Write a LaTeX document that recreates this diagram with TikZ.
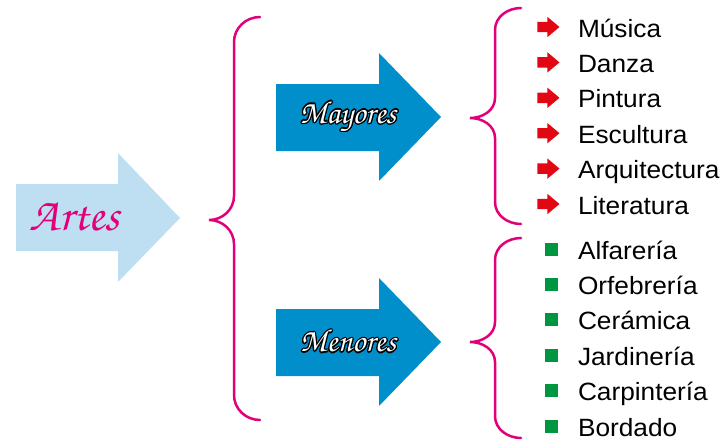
\documentclass[tikz,border=0pt]{standalone}
\usepackage{fontspec}
\setmainfont[FakeStretch=1.05]{Liberation Sans}
\newfontfamily\chorus{texgyrechorus-mediumitalic.otf}
\usepackage{contour}
\contourlength{1.2pt}
\usetikzlibrary{shapes.arrows}

\definecolor{celeste}{HTML}{BDDFF1}
\definecolor{azul}{HTML}{008FCB}
\definecolor{rosa}{HTML}{E2007A}
\definecolor{rojo}{HTML}{E30613}
\definecolor{verde}{HTML}{009640}

\tikzset{
  llave/.style={draw=rosa, line width=2.5pt, line cap=round},
  titulo/.style={text=white, font=\chorus\fontsize{32}{38}\selectfont},
  item/.style={text width=140pt, align=left, inner sep=0pt, text height=20pt, text depth=0pt,
    font=\fontsize{25}{30}\selectfont},
  bala roja/.style={single arrow, fill=rojo, inner sep=0pt, text width=12pt, text height=5pt,
    text depth=5pt, minimum height=22pt, minimum width=20pt, single arrow head extend=5pt,
    single arrow tip angle=80},
  bala verde/.style={fill=verde, minimum size=13pt, inner sep=0pt},
  mayor/.style={item, label={[bala roja, label distance=18pt]left:}},
  menor/.style={item, label={[bala verde, label distance=20pt]left:}}
}

\begin{document}
\begin{tikzpicture}[x=1pt, y=-1pt, node distance=35.4pt]
        \useasboundingbox (0,0) rectangle (723,442);

        % Flechas
        \fill[celeste] (16,184) -- (118,184) -- (118,153) -- (180,218) -- (118,282) -- (118,251) -- (16,251) -- cycle;
        \fill[azul] (276,84) -- (379,84) -- (379,53) -- (441,117) -- (379,181) -- (379,151) -- (276,151) -- cycle;
        \fill[azul] (276,309) -- (379,309) -- (379,278) -- (441,342) -- (379,406) -- (379,376) -- (276,376) -- cycle;

        \node[text=rosa, font=\chorus\fontsize{47}{52}\selectfont] (artes) at (75,217) {Artes};
        \node[titulo] (mayores) at (348,117) {\contour{black}{Mayores}};
        \node[titulo] (menores) at (348,342) {\contour{black}{Menores}};

        % Llaves
        \draw[llave] (260,17) to[out=180,in=90] (234,42) -- (234,196) to[out=270,in=0] (209,220)
                to[out=0,in=90] (234,244) -- (234,395) to[out=270,in=180] (260,420);
        \draw[llave] (521,8) to[out=180,in=90] (495,30) -- (495,98) to[out=270,in=0] (470,118)
                to[out=0,in=90] (495,138) -- (495,202) to[out=270,in=180] (521,224);
        \draw[llave] (521,238) to[out=180,in=90] (495,260) -- (495,322) to[out=270,in=0] (470,342)
                to[out=0,in=90] (495,362) -- (495,416) to[out=270,in=180] (521,438);

        % Artes mayores
        \node[mayor] (musica) at (648,27) {Música};
        \node[mayor, below of=musica] (danza) {Danza};
        \node[mayor, below of=danza] (pintura) {Pintura};
        \node[mayor, below of=pintura] (escultura) {Escultura};
        \node[mayor, below of=escultura] (arquitectura) {Arquitectura};
        \node[mayor, below of=arquitectura] (literatura) {Literatura};

        % Artes menores
        \node[menor] (alfareria) at (648,249) {Alfarería};
        \node[menor, below of=alfareria] (orfebreria) {Orfebrería};
        \node[menor, below of=orfebreria] (ceramica) {Cerámica};
        \node[menor, below of=ceramica] (jardineria) {Jardinería};
        \node[menor, below of=jardineria] (carpinteria) {Carpintería};
        \node[menor, below of=carpinteria] (bordado) {Bordado};
\end{tikzpicture}
\end{document}
